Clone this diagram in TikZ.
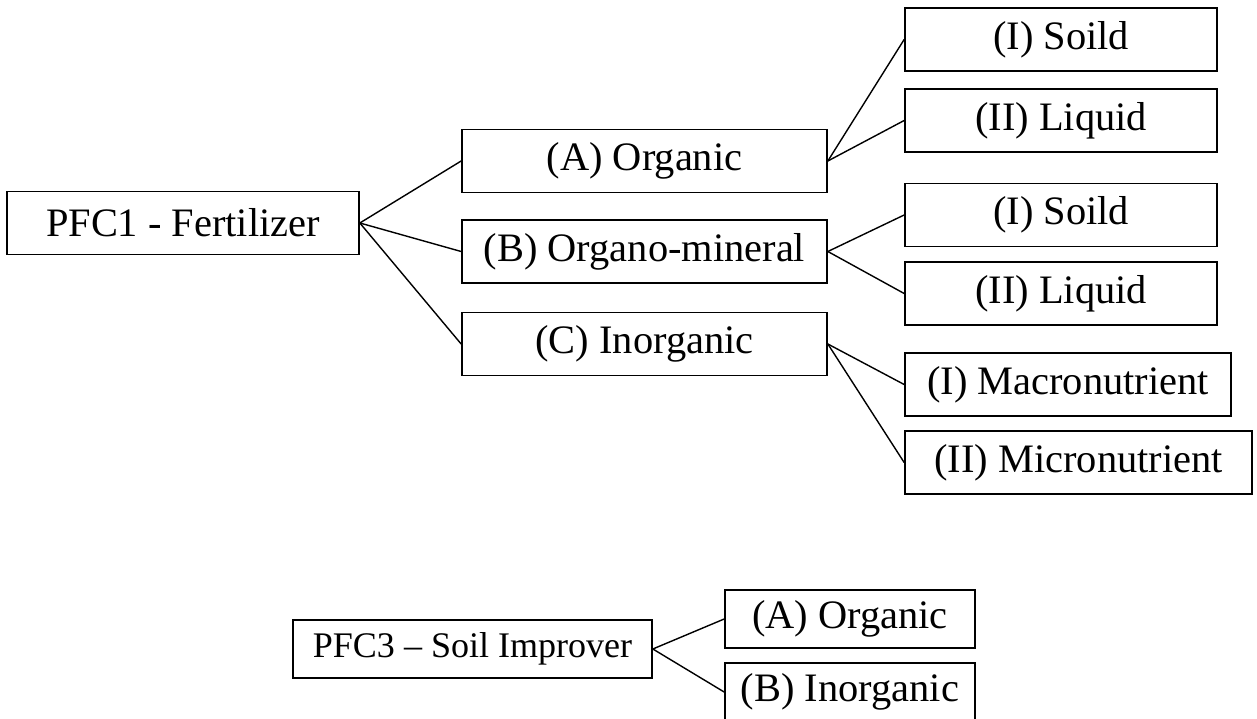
\documentclass[tikz,border=0pt]{standalone}
\usepackage{fontspec}
\setmainfont{Liberation Serif}
\usepackage{tikz}
\usetikzlibrary{positioning}

\tikzset{
  catbox/.style={draw=black, line width=1pt, inner sep=0pt, minimum height=1.26cm,
    font=\fontsize{23}{27}\selectfont},
  link/.style={draw=black, line width=0.8pt}
}

\begin{document}
\begin{tikzpicture}[x=0.02cm, y=-0.02cm]
  \useasboundingbox (0,0) rectangle (1257,719);

  % PFC1 and its categories
  \node[catbox, minimum width=7.04cm] (pfc1) at (183,223) {PFC1 - Fertilizer};
  \node[catbox, minimum width=7.3cm] (orgA) at (644.5,161) {(A) Organic};
  \node[catbox, minimum width=7.3cm] (orgB) at (644.5,251.5) {(B) Organo-mineral};
  \node[catbox, minimum width=7.3cm] (inorgC) at (644.5,344) {(C) Inorganic};

  % sub-categories
  \node[catbox, minimum width=6.24cm] (soildA) at (1061,39.5) {(I) Soild};
  \node[catbox, minimum width=6.24cm] (liquidA) at (1061,120.5) {(II) Liquid};
  \node[catbox, minimum width=6.24cm] (soildB) at (1061,215) {(I) Soild};
  \node[catbox, minimum width=6.24cm] (liquidB) at (1061,293.5) {(II) Liquid};
  \node[catbox, minimum width=6.52cm] (macroC) at (1068,384.5) {(I) Macronutrient};
  \node[catbox, minimum width=6.94cm] (microC) at (1078.5,462.5) {(II) Micronutrient};

  \foreach \kid in {orgA,orgB,inorgC}
    \draw[link] (pfc1.east) -- (\kid.west);
  \draw[link] (orgA.east) -- (soildA.west);
  \draw[link] (orgA.east) -- (liquidA.west);
  \draw[link] (orgB.east) -- (soildB.west);
  \draw[link] (orgB.east) -- (liquidB.west);
  \draw[link] (inorgC.east) -- (macroC.west);
  \draw[link] (inorgC.east) -- (microC.west);

  % PFC3
  \node[catbox, minimum width=7.18cm, minimum height=1.16cm, font=\fontsize{20.5}{25}\selectfont] (pfc3) at (472.5,649) {PFC3 -- Soil Improver};
  \node[catbox, minimum width=5cm, minimum height=1.16cm] (orgS) at (850,619) {(A) Organic};
  \node[catbox, minimum width=5cm, minimum height=1.16cm] (inorgS) at (850,692) {(B) Inorganic};

  \draw[link] (pfc3.east) -- (orgS.west);
  \draw[link] (pfc3.east) -- (inorgS.west);
\end{tikzpicture}
\end{document}
